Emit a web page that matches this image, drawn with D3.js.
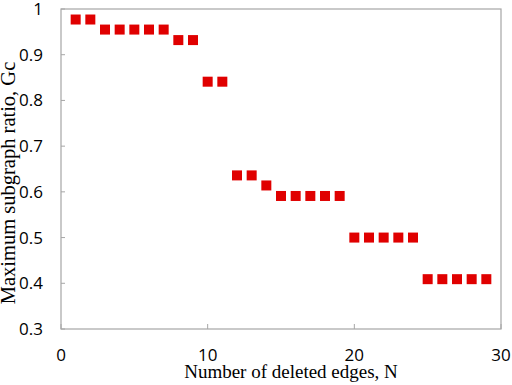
<!DOCTYPE html>
<html>
<head>
<meta charset="utf-8">
<script src="https://cdn.jsdelivr.net/npm/d3@7"></script>
<style>
  body { margin: 0; background: #fff; }
  .tick-label { font-family: "Open Sans", sans-serif; font-size: 17px; fill: #000; }
  .axis-title { font-family: "Liberation Serif", "Times New Roman", serif; font-size: 19px; fill: #000; }
</style>
</head>
<body>
<div id="chart"></div>
<script>
// deleted edges N and max subgraph ratio Gc
var edgesN = [1,2,3,4,5,6,7,8,9,10,11,12,13,14,15,16,17,18,19,20,21,22,23,24,25,26,27,28,29];
var ratioGc = [0.977,0.977,0.955,0.955,0.955,0.955,0.955,0.932,0.932,0.841,0.841,
               0.636,0.636,0.614,0.591,0.591,0.591,0.591,0.591,
               0.5,0.5,0.5,0.5,0.5,0.409,0.409,0.409,0.409,0.409];
var xTicks = [0,10,20,30];
var yTicks = [0.3,0.4,0.5,0.6,0.7,0.8,0.9,1];

var W = 512, H = 385;
var margin = {top: 9, right: 11, bottom: 56, left: 61};
var width = W - margin.left - margin.right,
    height = H - margin.top - margin.bottom;

var svg = d3.select("#chart").append("svg")
    .attr("width", W)
    .attr("height", H);

var g = svg.append("g")
    .attr("transform", "translate(" + margin.left + "," + margin.top + ")");

var x = d3.scaleLinear().domain([0,30]).range([0,width]);
var y = d3.scaleLinear().domain([0.3,1]).range([height,0]);

// frame
g.append("rect")
    .attr("x", 0).attr("y", 0)
    .attr("width", width).attr("height", height)
    .attr("fill", "none")
    .attr("stroke", "#a6a6a6")
    .attr("stroke-width", 1.2);

// inward ticks
g.selectAll("line.ytick").data(yTicks).enter().append("line")
    .attr("class", "ytick")
    .attr("x1", 0).attr("x2", 4)
    .attr("y1", function(d){ return y(d); })
    .attr("y2", function(d){ return y(d); })
    .attr("stroke", "#a6a6a6");

g.selectAll("line.xtick").data(xTicks).enter().append("line")
    .attr("class", "xtick")
    .attr("x1", function(d){ return x(d); })
    .attr("x2", function(d){ return x(d); })
    .attr("y1", height).attr("y2", height - 5)
    .attr("stroke", "#a6a6a6");

// tick labels
g.selectAll("text.ylab").data(yTicks).enter().append("text")
    .attr("class", "tick-label")
    .attr("x", -18)
    .attr("y", function(d){ return y(d); })
    .attr("dy", "0.35em")
    .attr("text-anchor", "end")
    .text(function(d){ return d3.format("")(d); });

g.selectAll("text.xlab").data(xTicks).enter().append("text")
    .attr("class", "tick-label")
    .attr("x", function(d){ return x(d); })
    .attr("y", height + 32)
    .attr("text-anchor", "middle")
    .text(function(d){ return d; });

// points
var sz = 10;
g.selectAll("rect.pt").data(edgesN).enter().append("rect")
    .attr("class", "pt")
    .attr("x", function(d){ return x(d) - sz/2; })
    .attr("y", function(d,i){ return y(ratioGc[i]) - sz/2; })
    .attr("width", sz).attr("height", sz)
    .attr("fill", "#e00000");

// axis titles
svg.append("text")
    .attr("class", "axis-title")
    .attr("x", 291)
    .attr("y", 378)
    .attr("text-anchor", "middle")
    .text("Number of deleted edges, N");

svg.append("text")
    .attr("class", "axis-title")
    .style("font-size", "20.5px")
    .attr("transform", "translate(15,183) rotate(-90)")
    .attr("text-anchor", "middle")
    .text("Maximum subgraph ratio, Gc");
</script>
</body>
</html>
